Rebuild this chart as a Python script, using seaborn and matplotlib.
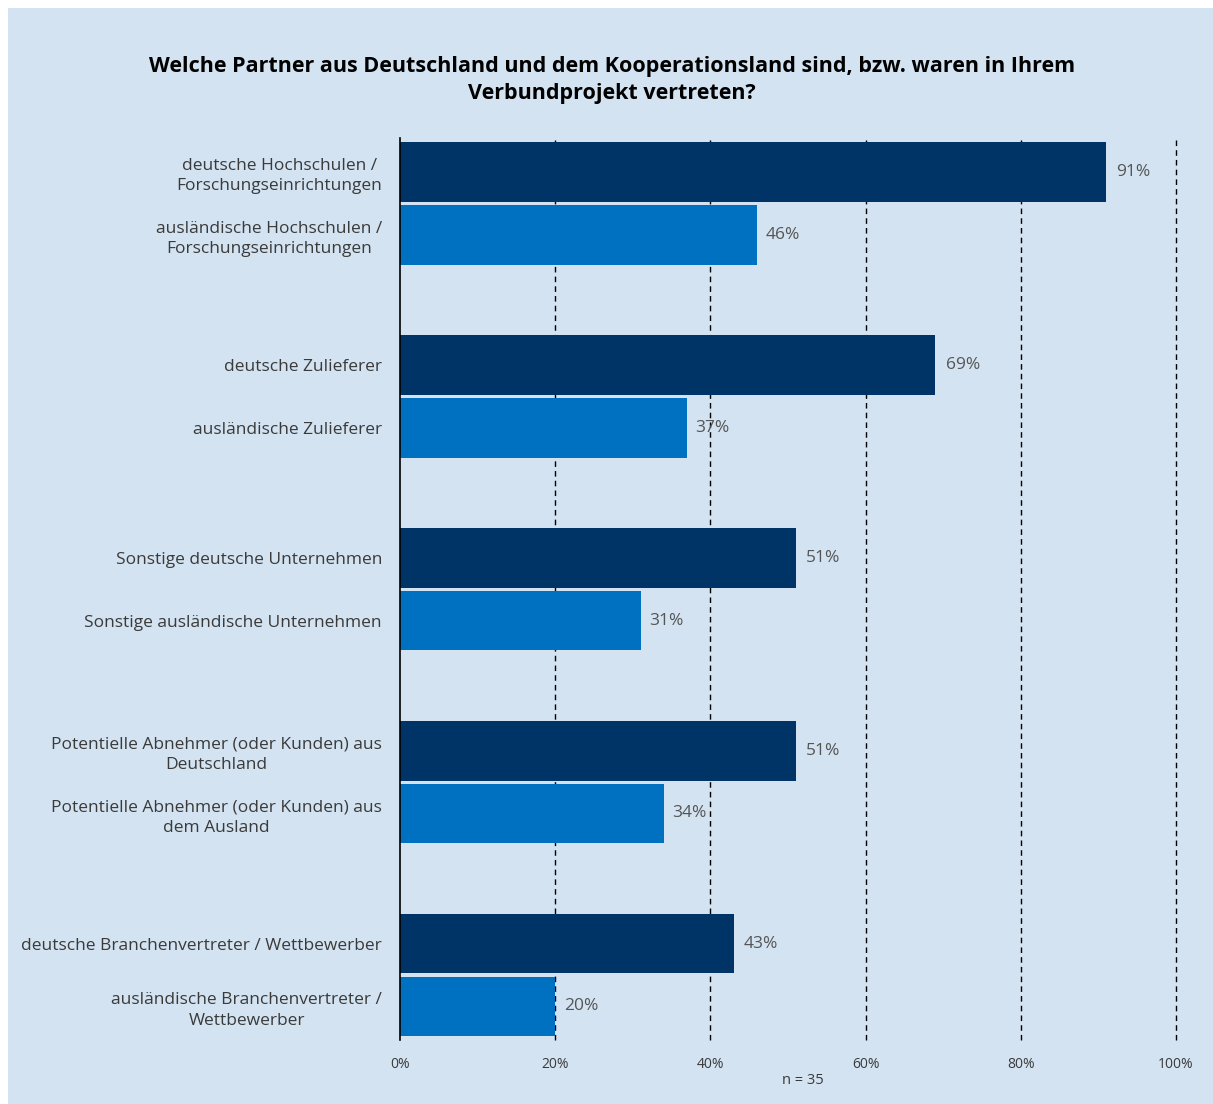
import numpy as np
import pandas as pd
import matplotlib
matplotlib.use("Agg")
import matplotlib.pyplot as plt
import seaborn as sns
from matplotlib.patches import Rectangle

# Data
groups = ["Hochschulen", "Zulieferer", "Sonstige", "Abnehmer", "Branche"]
german_labels = [
    "deutsche Hochschulen /\nForschungseinrichtungen",
    "deutsche Zulieferer",
    "Sonstige deutsche Unternehmen",
    "Potentielle Abnehmer (oder Kunden) aus\nDeutschland",
    "deutsche Branchenvertreter / Wettbewerber",
]
foreign_labels = [
    "ausländische Hochschulen /\nForschungseinrichtungen",
    "ausländische Zulieferer",
    "Sonstige ausländische Unternehmen",
    "Potentielle Abnehmer (oder Kunden) aus\ndem Ausland",
    "ausländische Branchenvertreter /\nWettbewerber",
]
german_values = [91, 69, 51, 51, 43]
foreign_values = [46, 37, 31, 34, 20]
xticks = [0, 20, 40, 60, 80, 100]

df = pd.DataFrame({
    "group": groups * 2,
    "origin": ["deutsch"] * 5 + ["ausländisch"] * 5,
    "value": german_values + foreign_values,
})

bg = "#d3e3f1"
dark = "#003366"
light = "#0070c0"
text_col = "#3a3a3a"

sns.set_theme(style="white")
plt.rcParams["font.family"] = ["Open Sans", "DejaVu Sans"]

fig = plt.figure(figsize=(12.13, 11.04), dpi=100)
fig.patch.set_facecolor(bg)
# thin white margin on the top and left edges
fig.patches.append(Rectangle((0, 1 - 8 / 1104), 1, 8 / 1104, transform=fig.transFigure,
                             facecolor="white", edgecolor="none", zorder=-10))
fig.patches.append(Rectangle((0, 0), 8 / 1213, 1, transform=fig.transFigure,
                             facecolor="white", edgecolor="none", zorder=-10))

ax = fig.add_axes([400 / 1213, 1 - 1040 / 1104, 776 / 1213, (1040 - 138) / 1104])
ax.set_facecolor("none")

width = 0.65
sns.barplot(data=df, y="group", x="value", hue="origin", order=groups,
            hue_order=["deutsch", "ausländisch"], palette=[dark, light],
            width=width, gap=0.05, orient="h", saturation=1, linewidth=0,
            edgecolor="none", ax=ax, legend=False)

ax.set_xlim(0, 100)
ax.set_ylim(4.337, -0.34)
ax.set_xlabel("")
ax.set_ylabel("")

# Per-bar labels on the y axis
off = width / 4
ypos, ylabs = [], []
for i in range(len(groups)):
    ypos += [i - off, i + off]
    ylabs += [german_labels[i], foreign_labels[i]]
ax.set_yticks(ypos)
ax.set_yticklabels(ylabs, fontsize=12.5, color=text_col, multialignment="center",
                   linespacing=1.35)
ax.tick_params(axis="y", length=0, pad=13)

ax.set_xticks(xticks)
ax.set_xticklabels([f"{t}%" for t in xticks], fontsize=10, color=text_col)
ax.tick_params(axis="x", length=0, pad=12)

for x in xticks[1:]:
    ax.axvline(x, color="black", linestyle=(0, (4, 3)), linewidth=1, zorder=0, clip_on=False)

for s in ["top", "right", "bottom"]:
    ax.spines[s].set_visible(False)
ax.spines["left"].set_color("black")
ax.spines["left"].set_linewidth(1.2)

# Value labels
for i in range(len(groups)):
    ax.text(german_values[i] + 1.3, i - off, f"{german_values[i]}%", va="center", ha="left",
            fontsize=12.5, color="#555555")
    ax.text(foreign_values[i] + 1.1, i + off, f"{foreign_values[i]}%", va="center", ha="left",
            fontsize=12.5, color="#555555")

fig.text(612 / 1213, 1 - 80 / 1104,
         "Welche Partner aus Deutschland und dem Kooperationsland sind, bzw. waren in Ihrem\nVerbundprojekt vertreten?",
         ha="center", va="center", fontsize=15.5, fontweight="bold", color="black", linespacing=1.35)
fig.text(803 / 1213, 1 - 1081 / 1104, "n = 35", ha="center", va="center", fontsize=10.5, color=text_col)

fig.savefig("out.png", dpi=100, facecolor=fig.get_facecolor())
